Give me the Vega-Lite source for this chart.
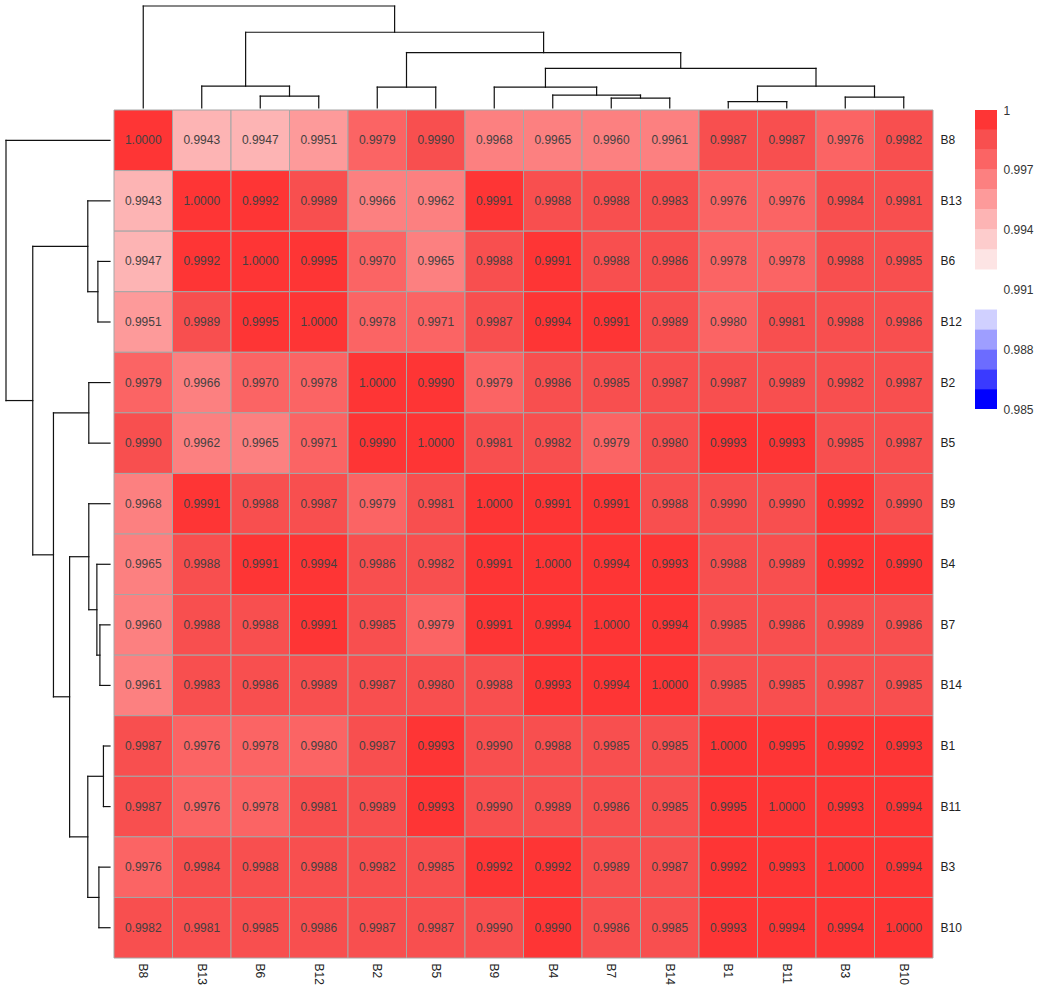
{
  "$schema": "https://vega.github.io/schema/vega-lite/v6.json",
  "background": "white",
  "config": {"view": {"stroke": null}, "font": "Liberation Sans"},
  "datasets": {
    "matrix": [
      {"r":"B8","c":"B8","v":1.0000},{"r":"B8","c":"B13","v":0.9943},{"r":"B8","c":"B6","v":0.9947},{"r":"B8","c":"B12","v":0.9951},{"r":"B8","c":"B2","v":0.9979},{"r":"B8","c":"B5","v":0.99898},{"r":"B8","c":"B9","v":0.9968},{"r":"B8","c":"B4","v":0.9965},{"r":"B8","c":"B7","v":0.9960},{"r":"B8","c":"B14","v":0.9961},{"r":"B8","c":"B1","v":0.9987},{"r":"B8","c":"B11","v":0.9987},{"r":"B8","c":"B3","v":0.9976},{"r":"B8","c":"B10","v":0.9982},
      {"r":"B13","c":"B8","v":0.9943},{"r":"B13","c":"B13","v":1.0000},{"r":"B13","c":"B6","v":0.9992},{"r":"B13","c":"B12","v":0.9989},{"r":"B13","c":"B2","v":0.9966},{"r":"B13","c":"B5","v":0.9962},{"r":"B13","c":"B9","v":0.9991},{"r":"B13","c":"B4","v":0.9988},{"r":"B13","c":"B7","v":0.9988},{"r":"B13","c":"B14","v":0.9983},{"r":"B13","c":"B1","v":0.9976},{"r":"B13","c":"B11","v":0.9976},{"r":"B13","c":"B3","v":0.9984},{"r":"B13","c":"B10","v":0.9981},
      {"r":"B6","c":"B8","v":0.9947},{"r":"B6","c":"B13","v":0.9992},{"r":"B6","c":"B6","v":1.0000},{"r":"B6","c":"B12","v":0.9995},{"r":"B6","c":"B2","v":0.9970},{"r":"B6","c":"B5","v":0.9965},{"r":"B6","c":"B9","v":0.9988},{"r":"B6","c":"B4","v":0.9991},{"r":"B6","c":"B7","v":0.9988},{"r":"B6","c":"B14","v":0.9986},{"r":"B6","c":"B1","v":0.9978},{"r":"B6","c":"B11","v":0.9978},{"r":"B6","c":"B3","v":0.9988},{"r":"B6","c":"B10","v":0.9985},
      {"r":"B12","c":"B8","v":0.9951},{"r":"B12","c":"B13","v":0.9989},{"r":"B12","c":"B6","v":0.9995},{"r":"B12","c":"B12","v":1.0000},{"r":"B12","c":"B2","v":0.9978},{"r":"B12","c":"B5","v":0.9971},{"r":"B12","c":"B9","v":0.9987},{"r":"B12","c":"B4","v":0.9994},{"r":"B12","c":"B7","v":0.9991},{"r":"B12","c":"B14","v":0.9989},{"r":"B12","c":"B1","v":0.99798},{"r":"B12","c":"B11","v":0.9981},{"r":"B12","c":"B3","v":0.9988},{"r":"B12","c":"B10","v":0.9986},
      {"r":"B2","c":"B8","v":0.9979},{"r":"B2","c":"B13","v":0.9966},{"r":"B2","c":"B6","v":0.9970},{"r":"B2","c":"B12","v":0.9978},{"r":"B2","c":"B2","v":1.0000},{"r":"B2","c":"B5","v":0.9990},{"r":"B2","c":"B9","v":0.9979},{"r":"B2","c":"B4","v":0.9986},{"r":"B2","c":"B7","v":0.9985},{"r":"B2","c":"B14","v":0.9987},{"r":"B2","c":"B1","v":0.9987},{"r":"B2","c":"B11","v":0.9989},{"r":"B2","c":"B3","v":0.9982},{"r":"B2","c":"B10","v":0.9987},
      {"r":"B5","c":"B8","v":0.99898},{"r":"B5","c":"B13","v":0.9962},{"r":"B5","c":"B6","v":0.9965},{"r":"B5","c":"B12","v":0.9971},{"r":"B5","c":"B2","v":0.9990},{"r":"B5","c":"B5","v":1.0000},{"r":"B5","c":"B9","v":0.9981},{"r":"B5","c":"B4","v":0.9982},{"r":"B5","c":"B7","v":0.9979},{"r":"B5","c":"B14","v":0.9980},{"r":"B5","c":"B1","v":0.9993},{"r":"B5","c":"B11","v":0.9993},{"r":"B5","c":"B3","v":0.9985},{"r":"B5","c":"B10","v":0.9987},
      {"r":"B9","c":"B8","v":0.9968},{"r":"B9","c":"B13","v":0.9991},{"r":"B9","c":"B6","v":0.9988},{"r":"B9","c":"B12","v":0.9987},{"r":"B9","c":"B2","v":0.9979},{"r":"B9","c":"B5","v":0.9981},{"r":"B9","c":"B9","v":1.0000},{"r":"B9","c":"B4","v":0.9991},{"r":"B9","c":"B7","v":0.9991},{"r":"B9","c":"B14","v":0.9988},{"r":"B9","c":"B1","v":0.99898},{"r":"B9","c":"B11","v":0.99898},{"r":"B9","c":"B3","v":0.9992},{"r":"B9","c":"B10","v":0.99898},
      {"r":"B4","c":"B8","v":0.9965},{"r":"B4","c":"B13","v":0.9988},{"r":"B4","c":"B6","v":0.9991},{"r":"B4","c":"B12","v":0.9994},{"r":"B4","c":"B2","v":0.9986},{"r":"B4","c":"B5","v":0.9982},{"r":"B4","c":"B9","v":0.9991},{"r":"B4","c":"B4","v":1.0000},{"r":"B4","c":"B7","v":0.9994},{"r":"B4","c":"B14","v":0.9993},{"r":"B4","c":"B1","v":0.9988},{"r":"B4","c":"B11","v":0.9989},{"r":"B4","c":"B3","v":0.9992},{"r":"B4","c":"B10","v":0.9990},
      {"r":"B7","c":"B8","v":0.9960},{"r":"B7","c":"B13","v":0.9988},{"r":"B7","c":"B6","v":0.9988},{"r":"B7","c":"B12","v":0.9991},{"r":"B7","c":"B2","v":0.9985},{"r":"B7","c":"B5","v":0.9979},{"r":"B7","c":"B9","v":0.9991},{"r":"B7","c":"B4","v":0.9994},{"r":"B7","c":"B7","v":1.0000},{"r":"B7","c":"B14","v":0.9994},{"r":"B7","c":"B1","v":0.9985},{"r":"B7","c":"B11","v":0.9986},{"r":"B7","c":"B3","v":0.9989},{"r":"B7","c":"B10","v":0.9986},
      {"r":"B14","c":"B8","v":0.9961},{"r":"B14","c":"B13","v":0.9983},{"r":"B14","c":"B6","v":0.9986},{"r":"B14","c":"B12","v":0.9989},{"r":"B14","c":"B2","v":0.9987},{"r":"B14","c":"B5","v":0.9980},{"r":"B14","c":"B9","v":0.9988},{"r":"B14","c":"B4","v":0.9993},{"r":"B14","c":"B7","v":0.9994},{"r":"B14","c":"B14","v":1.0000},{"r":"B14","c":"B1","v":0.9985},{"r":"B14","c":"B11","v":0.9985},{"r":"B14","c":"B3","v":0.9987},{"r":"B14","c":"B10","v":0.9985},
      {"r":"B1","c":"B8","v":0.9987},{"r":"B1","c":"B13","v":0.9976},{"r":"B1","c":"B6","v":0.9978},{"r":"B1","c":"B12","v":0.99798},{"r":"B1","c":"B2","v":0.9987},{"r":"B1","c":"B5","v":0.9993},{"r":"B1","c":"B9","v":0.99898},{"r":"B1","c":"B4","v":0.9988},{"r":"B1","c":"B7","v":0.9985},{"r":"B1","c":"B14","v":0.9985},{"r":"B1","c":"B1","v":1.0000},{"r":"B1","c":"B11","v":0.9995},{"r":"B1","c":"B3","v":0.9992},{"r":"B1","c":"B10","v":0.9993},
      {"r":"B11","c":"B8","v":0.9987},{"r":"B11","c":"B13","v":0.9976},{"r":"B11","c":"B6","v":0.9978},{"r":"B11","c":"B12","v":0.9981},{"r":"B11","c":"B2","v":0.9989},{"r":"B11","c":"B5","v":0.9993},{"r":"B11","c":"B9","v":0.99898},{"r":"B11","c":"B4","v":0.9989},{"r":"B11","c":"B7","v":0.9986},{"r":"B11","c":"B14","v":0.9985},{"r":"B11","c":"B1","v":0.9995},{"r":"B11","c":"B11","v":1.0000},{"r":"B11","c":"B3","v":0.9993},{"r":"B11","c":"B10","v":0.9994},
      {"r":"B3","c":"B8","v":0.9976},{"r":"B3","c":"B13","v":0.9984},{"r":"B3","c":"B6","v":0.9988},{"r":"B3","c":"B12","v":0.9988},{"r":"B3","c":"B2","v":0.9982},{"r":"B3","c":"B5","v":0.9985},{"r":"B3","c":"B9","v":0.9992},{"r":"B3","c":"B4","v":0.9992},{"r":"B3","c":"B7","v":0.9989},{"r":"B3","c":"B14","v":0.9987},{"r":"B3","c":"B1","v":0.9992},{"r":"B3","c":"B11","v":0.9993},{"r":"B3","c":"B3","v":1.0000},{"r":"B3","c":"B10","v":0.9994},
      {"r":"B10","c":"B8","v":0.9982},{"r":"B10","c":"B13","v":0.9981},{"r":"B10","c":"B6","v":0.9985},{"r":"B10","c":"B12","v":0.9986},{"r":"B10","c":"B2","v":0.9987},{"r":"B10","c":"B5","v":0.9987},{"r":"B10","c":"B9","v":0.99898},{"r":"B10","c":"B4","v":0.9990},{"r":"B10","c":"B7","v":0.9986},{"r":"B10","c":"B14","v":0.9985},{"r":"B10","c":"B1","v":0.9993},{"r":"B10","c":"B11","v":0.9994},{"r":"B10","c":"B3","v":0.9994},{"r":"B10","c":"B10","v":1.0000}
    ],
    "tree": [
      {"node":"B6+B12","l":2.5,"r":3.5,"hl":0,"hr":0,"h":12},
      {"node":"B13+(B6,B12)","l":1.5,"r":3.0,"hl":0,"hr":12,"h":22},
      {"node":"B2+B5","l":4.5,"r":5.5,"hl":0,"hr":0,"h":21},
      {"node":"B7+B14","l":8.5,"r":9.5,"hl":0,"hr":0,"h":10},
      {"node":"B4+(B7,B14)","l":7.5,"r":9.0,"hl":0,"hr":10,"h":13},
      {"node":"B9+(B4,B7,B14)","l":6.5,"r":8.25,"hl":0,"hr":13,"h":21},
      {"node":"B1+B11","l":10.5,"r":11.5,"hl":0,"hr":0,"h":6.5},
      {"node":"B3+B10","l":12.5,"r":13.5,"hl":0,"hr":0,"h":11},
      {"node":"(B1,B11)+(B3,B10)","l":11.0,"r":13.0,"hl":6.5,"hr":11,"h":22},
      {"node":"n6+n9","l":7.375,"r":12.0,"hl":21,"hr":22,"h":40},
      {"node":"(B2,B5)+n10","l":5.0,"r":9.6875,"hl":21,"hr":40,"h":56},
      {"node":"n2+n11","l":2.25,"r":7.34375,"hl":22,"hr":56,"h":76.5},
      {"node":"B8+rest","l":0.5,"r":4.796875,"hl":0,"hr":76.5,"h":103}
    ],
    "bins": [
      {"lo":0.985,"hi":0.986},{"lo":0.986,"hi":0.987},{"lo":0.987,"hi":0.988},{"lo":0.988,"hi":0.989},{"lo":0.989,"hi":0.990},
      {"lo":0.990,"hi":0.991},{"lo":0.991,"hi":0.992},{"lo":0.992,"hi":0.993},{"lo":0.993,"hi":0.994},{"lo":0.994,"hi":0.995},
      {"lo":0.995,"hi":0.996},{"lo":0.996,"hi":0.997},{"lo":0.997,"hi":0.998},{"lo":0.998,"hi":0.999},{"lo":0.999,"hi":1.0}
    ]
  },
  "bounds": "full",
  "spacing": 2,
  "hconcat": [
    {
      "bounds": "flush",
      "spacing": 2,
      "vconcat": [
        {"width": 104, "height": 102, "data": {"values": []}, "mark": "point"},
        {
          "width": 104,
          "height": 848,
          "data": {"name": "tree"},
          "layer": [
            {
              "mark": {"type": "rule", "color": "#111111", "strokeWidth": 1.2, "strokeCap": "square"},
              "encoding": {
                "y": {"field": "l", "type": "quantitative", "scale": {"domain": [0, 14], "reverse": true, "nice": false, "zero": false}, "axis": null},
                "y2": {"field": "r"},
                "x": {"field": "h", "type": "quantitative", "scale": {"domain": [0, 103], "reverse": true, "nice": false}, "axis": null}
              }
            },
            {
              "mark": {"type": "rule", "color": "#111111", "strokeWidth": 1.2, "strokeCap": "square"},
              "encoding": {
                "y": {"field": "l", "type": "quantitative", "axis": null},
                "x": {"field": "hl", "type": "quantitative", "axis": null},
                "x2": {"field": "h"}
              }
            },
            {
              "mark": {"type": "rule", "color": "#111111", "strokeWidth": 1.2, "strokeCap": "square"},
              "encoding": {
                "y": {"field": "r", "type": "quantitative", "axis": null},
                "x": {"field": "hr", "type": "quantitative", "axis": null},
                "x2": {"field": "h"}
              }
            }
          ]
        }
      ]
    },
    {
      "bounds": "flush",
      "spacing": 2,
      "vconcat": [
        {
          "width": 819,
          "height": 102,
          "data": {"name": "tree"},
          "layer": [
            {
              "mark": {"type": "rule", "color": "#111111", "strokeWidth": 1.2, "strokeCap": "square"},
              "encoding": {
                "x": {"field": "l", "type": "quantitative", "scale": {"domain": [0, 14], "nice": false, "zero": false}, "axis": null},
                "x2": {"field": "r"},
                "y": {"field": "h", "type": "quantitative", "scale": {"domain": [0, 103], "nice": false}, "axis": null}
              }
            },
            {
              "mark": {"type": "rule", "color": "#111111", "strokeWidth": 1.2, "strokeCap": "square"},
              "encoding": {
                "x": {"field": "l", "type": "quantitative", "axis": null},
                "y": {"field": "hl", "type": "quantitative", "axis": null},
                "y2": {"field": "h"}
              }
            },
            {
              "mark": {"type": "rule", "color": "#111111", "strokeWidth": 1.2, "strokeCap": "square"},
              "encoding": {
                "x": {"field": "r", "type": "quantitative", "axis": null},
                "y": {"field": "hr", "type": "quantitative", "axis": null},
                "y2": {"field": "h"}
              }
            }
          ]
        },
        {
          "bounds": "flush",
          "spacing": 42,
          "hconcat": [
            {
              "width": 819,
              "height": 848,
              "data": {"name": "matrix"},
              "encoding": {
                "x": {
                  "field": "c", "type": "nominal",
                  "sort": ["B8","B13","B6","B12","B2","B5","B9","B4","B7","B14","B1","B11","B3","B10"],
                  "scale": {"paddingInner": 0, "paddingOuter": 0},
                  "axis": {"orient": "bottom", "title": null, "labelAngle": 90, "ticks": false, "domain": false, "labelPadding": 5, "labelFontSize": 12, "labelColor": "#222222"}
                },
                "y": {
                  "field": "r", "type": "nominal",
                  "sort": ["B8","B13","B6","B12","B2","B5","B9","B4","B7","B14","B1","B11","B3","B10"],
                  "scale": {"paddingInner": 0, "paddingOuter": 0},
                  "axis": {"orient": "right", "title": null, "ticks": false, "domain": false, "labelPadding": 7, "labelFontSize": 12, "labelColor": "#222222"}
                }
              },
              "layer": [
                {
                  "mark": {"type": "rect", "stroke": "#a6a6a6", "strokeWidth": 1},
                  "encoding": {
                    "color": {
                      "field": "v", "type": "quantitative",
                      "scale": {
                        "type": "threshold",
                        "domain": [0.986,0.987,0.988,0.989,0.990,0.991,0.992,0.993,0.994,0.995,0.996,0.997,0.998,0.999],
                        "range": ["#0000ff","#3a3aff","#6c6cff","#9e9eff","#d0d0ff","#ffffff","#ffffff","#fde4e4","#fdcccc","#fdb4b4","#fd9a9a","#fc8080","#fb6464","#f84f4f","#fe3535"]
                      },
                      "legend": null
                    }
                  }
                },
                {
                  "mark": {"type": "text", "fontSize": 12, "color": "#454040"},
                  "encoding": {"text": {"field": "v", "type": "quantitative", "format": ".4f"}}
                }
              ]
            },
            {
              "width": 22,
              "height": 299,
              "data": {"name": "bins"},
              "mark": {"type": "rect"},
              "encoding": {
                "y": {
                  "field": "lo", "type": "quantitative",
                  "scale": {"domain": [0.985, 1.0], "nice": false, "zero": false},
                  "axis": {"orient": "right", "title": null, "values": [0.985,0.988,0.991,0.994,0.997,1], "format": ".3~f", "ticks": false, "domain": false, "grid": false, "labelFlush": false, "labelPadding": 6, "labelFontSize": 12, "labelColor": "#333333"}
                },
                "y2": {"field": "hi"},
                "color": {
                  "field": "lo", "type": "quantitative",
                  "scale": {
                    "type": "threshold",
                    "domain": [0.986,0.987,0.988,0.989,0.990,0.991,0.992,0.993,0.994,0.995,0.996,0.997,0.998,0.999],
                    "range": ["#0000ff","#3a3aff","#6c6cff","#9e9eff","#d0d0ff","#ffffff","#ffffff","#fde4e4","#fdcccc","#fdb4b4","#fd9a9a","#fc8080","#fb6464","#f84f4f","#fe3535"]
                  },
                  "legend": null
                }
              }
            }
          ]
        }
      ]
    }
  ]
}
